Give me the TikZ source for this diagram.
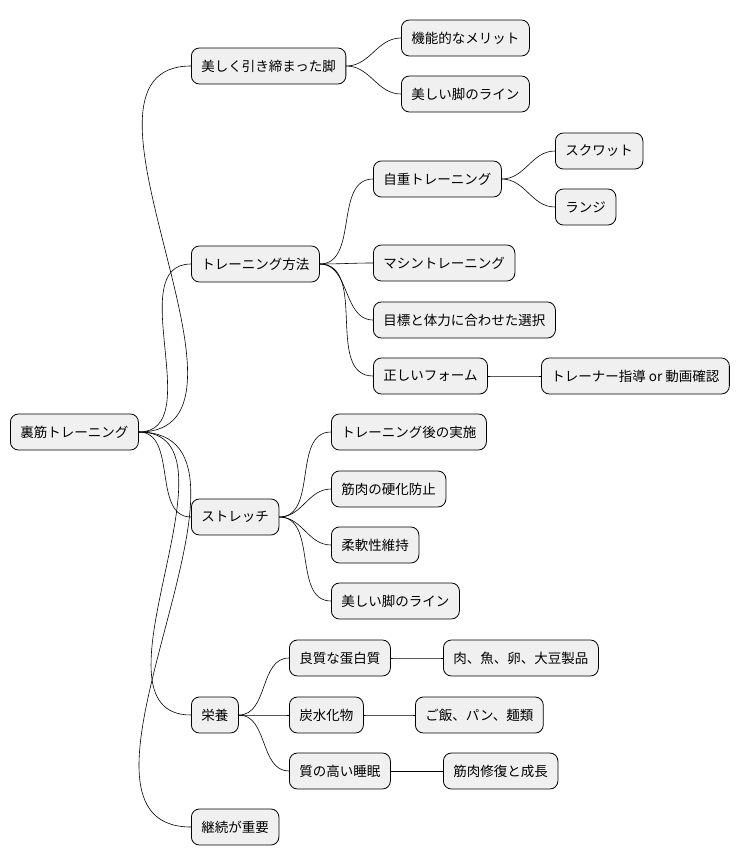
\documentclass[tikz,border=0pt]{standalone}
\usepackage{fontspec}
\setmainfont{Noto Sans CJK JP}
\usetikzlibrary{positioning}

\begin{document}
\begin{tikzpicture}[x=1pt,y=-1pt,
    box/.style={draw, fill=black!6, rounded corners=8pt, anchor=west, minimum height=36pt,
      inner xsep=10pt, font=\fontsize{13.5}{16}\selectfont, line width=0.8pt},
    link/.style={line width=0.6pt}]
        \useasboundingbox (0,0) rectangle (750,865);

        % Root
        \node[box] (root) at (10,432) {裏筋トレーニング};

        % Level 1
        \node[box] (legs) at (191,66) {美しく引き締まった脚};
        \node[box] (method) at (191,264) {トレーニング方法};
        \node[box] (stretch) at (191,517) {ストレッチ};
        \node[box] (food) at (191,715) {栄養};
        \node[box] (keep) at (191,827) {継続が重要};

        % Level 2
        \node[box] (merit) at (401,38) {機能的なメリット};
        \node[box] (line1) at (401,94) {美しい脚のライン};
        \node[box] (self) at (373,179) {自重トレーニング};
        \node[box] (machine) at (373,263) {マシントレーニング};
        \node[box] (goal) at (373,320) {目標と体力に合わせた選択};
        \node[box] (form) at (373,376) {正しいフォーム};
        \node[box] (after) at (331,432) {トレーニング後の実施};
        \node[box] (hard) at (331,489) {筋肉の硬化防止};
        \node[box] (flex) at (331,545) {柔軟性維持};
        \node[box] (line2) at (331,601) {美しい脚のライン};
        \node[box] (prot) at (289,658) {良質な蛋白質};
        \node[box] (carb) at (289,715) {炭水化物};
        \node[box] (sleep) at (289,771) {質の高い睡眠};

        % Level 3
        \node[box] (squat) at (555,151) {スクワット};
        \node[box] (lunge) at (555,207) {ランジ};
        \node[box] (coach) at (541,376) {トレーナー指導 or 動画確認};
        \node[box] (meat) at (443,658) {肉、魚、卵、大豆製品};
        \node[box] (rice) at (415,715) {ご飯、パン、麺類};
        \node[box] (repair) at (443,771) {筋肉修復と成長};

        % Links
        \foreach \a/\b in {root/legs, root/method, root/stretch, root/food, root/keep,
            legs/merit, legs/line1, method/self, method/machine, method/goal, method/form,
            stretch/after, stretch/hard, stretch/flex, stretch/line2,
            food/prot, food/carb, food/sleep, self/squat, self/lunge, form/coach,
            prot/meat, carb/rice, sleep/repair}
            \draw[link] (\a.east) to[out=0, in=180] (\b.west);
    \end{tikzpicture}
\end{document}
